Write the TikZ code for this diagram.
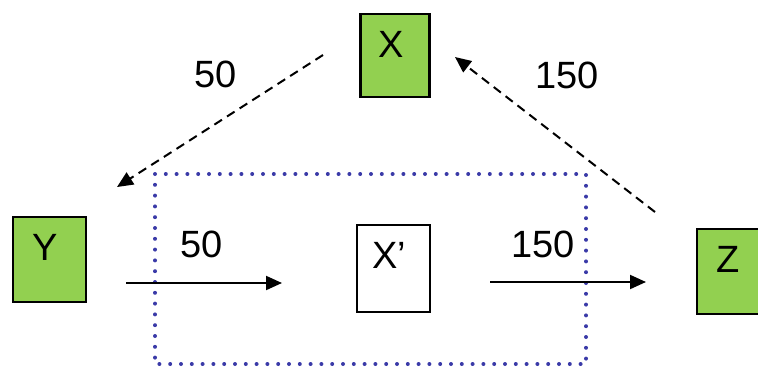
\documentclass[tikz,border=0pt]{standalone}
\usepackage{fontspec}
\setmainfont{Liberation Sans}
\usetikzlibrary{arrows.meta}
\definecolor{boxgreen}{RGB}{146,208,80}
\definecolor{dotblue}{RGB}{58,58,168}
\tikzset{
  box/.style={draw,line width=2.5pt,inner sep=0pt,text height=43pt,font=\fontsize{38}{40}\selectfont,
    execute at begin node={\hspace*{-8pt}}},
  num/.style={anchor=base,inner sep=0pt,font=\fontsize{38}{40}\selectfont},
  flow/.style={line width=2pt,-{Triangle[length=16pt,width=14pt]}},
  back/.style={flow,dash pattern=on 9pt off 6pt}
}
\begin{document}
\begin{tikzpicture}[x=1pt,y=-1pt]
          \useasboundingbox (0,0) rectangle (758,367);

          \node[box,fill=boxgreen,minimum width=69pt,text depth=40pt] (X) at (395,55.5) {X};
          \node[box,fill=boxgreen,minimum width=73pt,text depth=42pt] (Y) at (49.5,259.5) {Y};
          \node[box,fill=boxgreen,minimum width=70pt,text depth=42pt] (Z) at (732,271.5) {Z};
          \node[box,minimum width=73pt,text depth=44pt] (Xp) at (393.5,268.5) {X’};

          \draw[dotblue,line width=4pt,line cap=round,dash pattern=on 0pt off 10.8pt]
          (155,174) rectangle (586,364);

          \coordinate (xy1) at (323,55);
          \coordinate (xy2) at (117,187);
          \coordinate (zx1) at (655,212);
          \coordinate (zx2) at (455,57);
          \coordinate (yx1) at (126,283);
          \coordinate (yx2) at (282,283);
          \coordinate (xz1) at (490,282);
          \coordinate (xz2) at (646,282);

          \path[back]
          (xy1) edge (xy2)
          (zx1) edge (zx2);

          \path[flow]
          (yx1) edge (yx2)
          (xz1) edge (xz2);

          \node[num] (n1) at (216,87) {50};
          \node[num] (n2) at (567,88) {150};
          \node[num] (n3) at (202,257) {50};
          \node[num] (n4) at (543,257) {150};
        \end{tikzpicture}
\end{document}
